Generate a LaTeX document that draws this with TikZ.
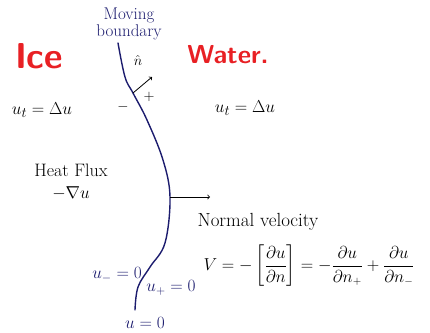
\documentclass[tikz,border=0pt]{standalone}
\usepackage{xcolor}
\usepackage{amsmath}
\usepackage{tikz}
\usetikzlibrary{arrows,positioning}
\definecolor{inkblue}{RGB}{28,28,110}
\definecolor{inkred}{RGB}{232,32,36}

\begin{document}
\begin{tikzpicture}[x=1pt, y=-1pt,
    phase/.style={text=inkred, font=\fontsize{26}{26}\selectfont\bfseries\sffamily},
    eqn/.style={font=\fontsize{19}{21}\selectfont},
    bdry/.style={text=inkblue, font=\fontsize{17}{17}\selectfont},
    sign/.style={font=\Large},
]
    \useasboundingbox (0,0) rectangle (430,332);

    % Boundary curve
    \coordinate (btop) at (118,43);
    \coordinate (b1) at (125,77);
    \coordinate (nbase) at (133,93);
    \coordinate (b2) at (147,120);
    \coordinate (b3) at (163,160);
    \coordinate (vbase) at (170,197);
    \coordinate (b4) at (165,243);
    \coordinate (b5) at (150,267);
    \coordinate (b6) at (138,287);
    \coordinate (bbot) at (135,310);
    \draw[inkblue, line width=1.4pt, line cap=round]
        plot[smooth, tension=0.6] coordinates {(btop) (b1) (nbase) (b2) (b3) (vbase) (b4) (b5) (b6) (bbot)};

    % Labels
    \node[bdry, align=center, inner sep=1pt] (moving) at (129,24) {Moving\\boundary};
    \node[phase, font=\fontsize{36}{36}\selectfont\bfseries\sffamily] (ice) at (39,56) {Ice};
    \node[phase] (water) at (228,55) {Water.};
    \node[sign] (nhat) at (138,60) {$\hat{n}$};
    \node[sign] (plus) at (149,97) {$+$};
    \node[sign] (minus) at (123,107) {$-$};
    \node[eqn] (icepde) at (42,110) {$u_t=\Delta u$};
    \node[eqn] (waterpde) at (245,108) {$u_t=\Delta u$};
    \node[eqn, font=\fontsize{18}{22}\selectfont, align=center] (flux) at (71,182) {Heat Flux\\$-\nabla u$};

    % Arrows
    \coordinate (ntip) at (152,77);
    \coordinate (vtip) at (210,197);
    \draw[->, thick] (nbase) -- (ntip);
    \draw[->, thick] (vbase) -- (vtip);

    % Normal velocity
    \node[eqn, inner sep=1pt] (vlabel) at (258,222) {Normal velocity};
    \node[eqn, font=\fontsize{16}{18}\selectfont, inner sep=1pt] (veq) at (309,266) {$V=-\left[\dfrac{\partial u}{\partial n}\right]=-\dfrac{\partial u}{\partial n_+}+\dfrac{\partial u}{\partial n_-}$};

    % Boundary values
    \node[bdry] (uminus) at (117,275) {$u_-=0$};
    \node[bdry] (uplus) at (171,288) {$u_+=0$};
    \node[bdry] (uzero) at (145,323) {$u=0$};
\end{tikzpicture}
\end{document}
